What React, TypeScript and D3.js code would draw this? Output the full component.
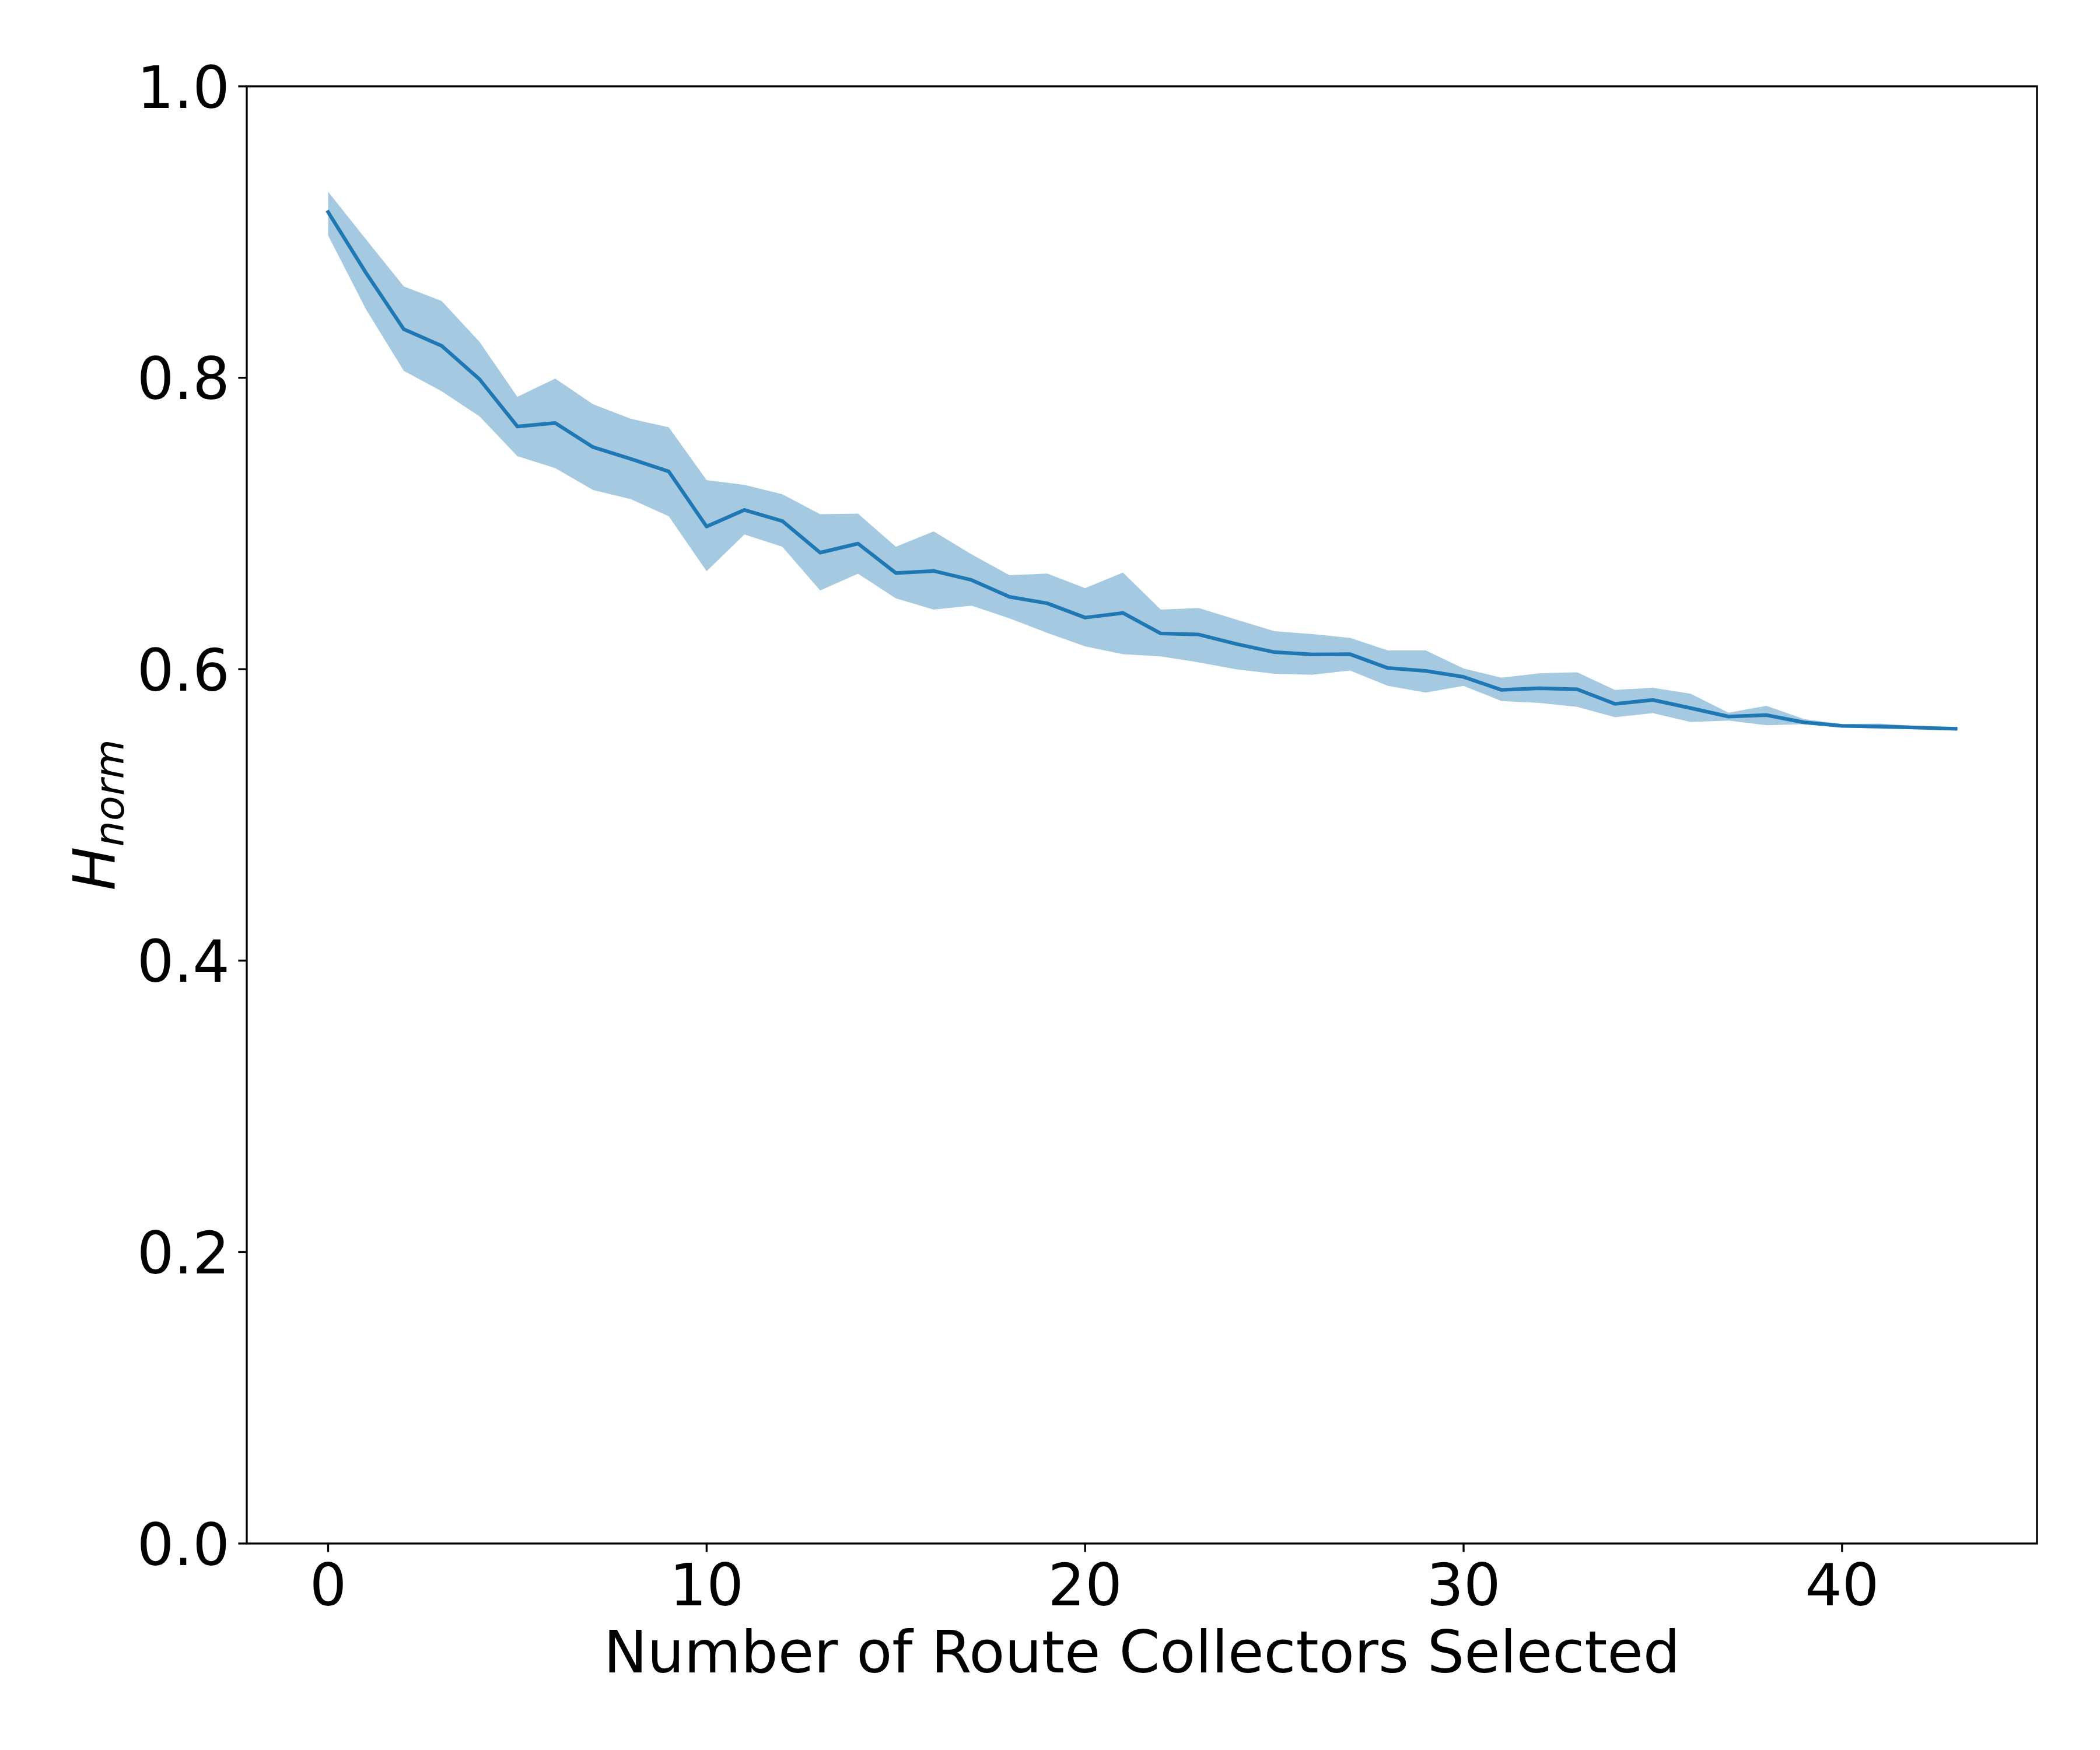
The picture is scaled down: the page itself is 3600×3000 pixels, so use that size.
import React from "react";
import * as d3 from "d3";

// values
const collectors = d3.range(0, 44);
const meanH = [
  0.9137, 0.872, 0.8333, 0.8219, 0.799, 0.7666, 0.769, 0.7524, 0.7443, 0.7357,
  0.6979, 0.7093, 0.7017, 0.68, 0.6862, 0.666, 0.6674, 0.6612, 0.6497, 0.6452,
  0.6354, 0.6386, 0.6245, 0.6238, 0.6173, 0.6117, 0.6101, 0.6103, 0.6008, 0.5988,
  0.5947, 0.5858, 0.5869, 0.5862, 0.5762, 0.5789, 0.5733, 0.5675, 0.5685, 0.5635,
  0.5611, 0.5607, 0.5599, 0.5591,
];
const upperH = [
  0.9276, 0.895, 0.8627, 0.8527, 0.8247, 0.7869, 0.7994, 0.7818, 0.7718, 0.766,
  0.7298, 0.7265, 0.7201, 0.7064, 0.7068, 0.684, 0.6946, 0.6788, 0.6645, 0.6656,
  0.6556, 0.6663, 0.6409, 0.642, 0.634, 0.6261, 0.6241, 0.6215, 0.6129, 0.6129,
  0.6005, 0.5942, 0.5972, 0.5979, 0.5858, 0.5873, 0.5832, 0.5702, 0.5749, 0.5658,
  0.5624, 0.5627, 0.561, 0.5599,
];
const lowerH = [
  0.8976, 0.847, 0.8047, 0.7907, 0.7735, 0.7462, 0.738, 0.723, 0.7167, 0.705,
  0.6672, 0.6925, 0.684, 0.654, 0.6655, 0.6486, 0.6409, 0.6436, 0.6349, 0.6249,
  0.6157, 0.6103, 0.6088, 0.6047, 0.5999, 0.5969, 0.5962, 0.5991, 0.5886, 0.584,
  0.5886, 0.5782, 0.5769, 0.5742, 0.5671, 0.5699, 0.5638, 0.5648, 0.5615, 0.5622,
  0.5602, 0.5589, 0.5589, 0.5585,
];
const xTicks = [0, 10, 20, 30, 40];
const yTicks = [0, 0.2, 0.4, 0.6, 0.8, 1.0];

const width = 3600;
const height = 3000;
const margin = { top: 148, right: 108, bottom: 354, left: 423 };
const fontSize = 100;
const font = "'DejaVu Sans', sans-serif";

export default function App() {
  const x = d3.scaleLinear([-2.15, 45.15], [margin.left, width - margin.right]);
  const y = d3.scaleLinear([0, 1], [height - margin.bottom, margin.top]);

  // mean line and the shaded band around it
  const line = d3.line<number>((d, i) => x(collectors[i]), (d) => y(d));
  const band = d3
    .area<number>()
    .x((d, i) => x(collectors[i]))
    .y0((d, i) => y(lowerH[i]))
    .y1((d) => y(d));

  const tickLen = 14.6;
  const axisW = 3.33;
  const fmt = d3.format(".1f");

  return (
    <div style={{ position: "absolute", left: 0, top: 0 }}>
      <svg width={width} height={height} style={{ display: "block", background: "#fff" }}>
        <path d={band(upperH)!} fill="#1f77b4" fillOpacity={0.4} stroke="none" />
        <path d={line(meanH)!} fill="none" stroke="#1f77b4" strokeWidth={6.25} strokeLinejoin="round" strokeLinecap="square" />

        {/* frame */}
        <rect
          x={margin.left}
          y={margin.top}
          width={width - margin.left - margin.right}
          height={height - margin.top - margin.bottom}
          fill="none"
          stroke="#000"
          strokeWidth={axisW}
        />

        {/* y axis */}
        <g fontFamily={font} fontSize={fontSize} fill="#000">
          {yTicks.map((t) => (
            <g key={t}>
              <line x1={margin.left - tickLen} x2={margin.left} y1={y(t)} y2={y(t)} stroke="#000" strokeWidth={axisW} />
              <text x={margin.left - tickLen - 14.6} y={y(t) + 36.5} textAnchor="end">
                {fmt(t)}
              </text>
            </g>
          ))}
        </g>

        {/* x axis */}
        <g fontFamily={font} fontSize={fontSize} fill="#000">
          {xTicks.map((t) => (
            <g key={t}>
              <line x1={x(t)} x2={x(t)} y1={height - margin.bottom} y2={height - margin.bottom + tickLen} stroke="#000" strokeWidth={axisW} />
              <text x={x(t)} y={2752} textAnchor="middle">
                {t}
              </text>
            </g>
          ))}
        </g>

        <text
          x={(margin.left + width - margin.right) / 2}
          y={2867}
          textAnchor="middle"
          fontFamily={font}
          fontSize={fontSize}
        >
          Number of Route Collectors Selected
        </text>

        <text
          transform={`translate(197,${(margin.top + height - margin.bottom) / 2}) rotate(-90)`}
          textAnchor="middle"
          fontFamily={font}
          fontSize={fontSize}
          fontStyle="italic"
        >
          H
          <tspan fontSize={70} dy={15}>
            norm
          </tspan>
        </text>
      </svg>
    </div>
  );
}
